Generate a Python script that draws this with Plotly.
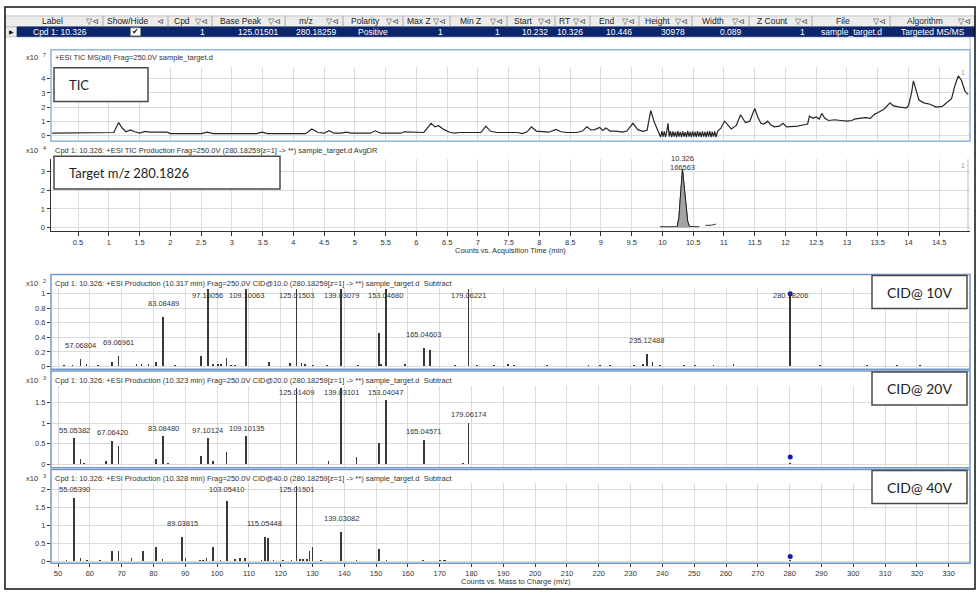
import plotly.graph_objects as go

# ---------------- data ----------------
table_headers = ["Label", "Show/Hide", "Cpd", "Base Peak", "m/z", "Polarity", "Max Z", "Min Z",
                 "Start", "RT", "End", "Height", "Width", "Z Count", "File", "Algorithm"]
table_row = ["Cpd 1: 10.326", "✔", "1", "125.01501", "280.18259", "Positive", "1", "1",
             "10.232", "10.326", "10.446", "30978", "0.089", "1", "sample_target.d", "Targeted MS/MS"]

# TIC, counts x10^7
tic_time = [
    0.08, 1.00, 1.08, 1.16, 1.22, 1.28, 1.35, 1.42, 1.50, 1.59,
    1.66, 1.75, 1.95, 2.00, 2.50, 2.60, 2.70, 3.40, 3.49, 3.58,
    4.20, 4.30, 4.40, 4.50, 4.58, 4.66, 4.78, 4.86, 4.94, 5.25,
    5.33, 5.42, 5.75, 5.80, 6.05, 6.12, 6.24, 6.30, 6.36, 6.45,
    6.55, 6.62, 6.70, 6.80, 7.00, 7.05, 7.13, 7.20, 7.30, 7.65,
    7.72, 7.80, 7.87, 7.95, 8.00, 8.15, 8.27, 8.35, 8.45, 8.60,
    8.70, 8.77, 8.84, 8.90, 8.98, 9.03, 9.08, 9.15, 9.25, 9.35,
    9.42, 9.52, 9.60, 9.68, 9.75, 9.81, 9.87, 9.93, 9.97, 9.99,
    10.01, 10.03, 10.05, 10.07, 10.09, 10.11, 10.13, 10.15, 10.17, 10.19,
    10.21, 10.23, 10.25, 10.27, 10.29, 10.31, 10.33, 10.35, 10.37, 10.39,
    10.41, 10.43, 10.45, 10.47, 10.49, 10.51, 10.53, 10.55, 10.57, 10.59,
    10.61, 10.63, 10.65, 10.67, 10.69, 10.71, 10.73, 10.75, 10.77, 10.79,
    10.81, 10.83, 10.85, 10.87, 10.90, 10.95, 11.01, 11.07, 11.12, 11.20,
    11.27, 11.32, 11.35, 11.42, 11.50, 11.55, 11.60, 11.65, 11.71, 11.76,
    11.82, 11.90, 11.96, 12.02, 12.10, 12.20, 12.30, 12.36, 12.39, 12.45,
    12.50, 12.55, 12.59, 12.64, 12.70, 12.80, 12.90, 13.00, 13.08, 13.12,
    13.20, 13.30, 13.38, 13.45, 13.50, 13.60, 13.70, 13.75, 13.85, 13.97,
    14.00, 14.05, 14.08, 14.12, 14.17, 14.25, 14.35, 14.45, 14.55, 14.62,
    14.70, 14.76, 14.81, 14.86, 14.92, 14.97]
tic_counts = [
    0.15, 0.15, 0.20, 0.90, 0.50, 0.25, 0.38, 0.25, 0.15, 0.28,
    0.22, 0.22, 0.22, 0.12, 0.12, 0.22, 0.12, 0.12, 0.22, 0.12,
    0.12, 0.45, 0.20, 0.15, 0.32, 0.15, 0.15, 0.22, 0.15, 0.15,
    0.32, 0.15, 0.15, 0.25, 0.25, 0.20, 0.85, 0.60, 0.68, 0.40,
    0.20, 0.15, 0.20, 0.20, 0.15, 0.20, 0.65, 0.30, 0.20, 0.20,
    0.12, 0.25, 0.60, 0.30, 0.28, 0.22, 0.42, 0.25, 0.20, 0.20,
    0.30, 0.60, 0.38, 0.40, 0.55, 0.35, 0.52, 0.30, 0.30, 0.22,
    0.30, 0.85, 0.40, 0.28, 0.35, 1.75, 0.90, 0.35, -0.12, 0.30,
    -0.10, 0.28, -0.12, 0.25, 0.85, -0.10, 0.30, -0.12, 0.28, -0.10,
    0.25, -0.12, 0.30, -0.10, 0.25, -0.12, 0.28, -0.10, 0.22, -0.12,
    0.32, -0.10, 0.25, -0.12, 0.28, -0.10, 0.25, -0.12, 0.30, -0.10,
    0.25, -0.12, 0.28, -0.10, 0.25, -0.12, 0.28, -0.10, 0.30, -0.12,
    0.25, -0.10, 0.28, -0.12, 0.30, 0.50, 1.00, 0.70, 0.45, 0.70,
    1.45, 1.10, 0.90, 1.00, 1.90, 1.30, 0.85, 0.80, 1.00, 0.75,
    0.60, 0.65, 0.85, 0.60, 0.60, 0.65, 0.75, 0.80, 1.35, 1.20,
    1.30, 1.15, 1.55, 1.20, 1.05, 1.10, 1.05, 1.00, 1.05, 1.15,
    1.20, 1.25, 1.20, 1.50, 1.60, 1.85, 2.30, 2.10, 2.00, 1.95,
    2.10, 3.00, 3.85, 3.20, 2.50, 2.30, 2.20, 2.00, 2.05, 2.30,
    2.60, 3.60, 4.20, 3.90, 3.10, 2.90]

# Target m/z 280.1826 chromatogram, counts x10^4
eic_time = [9.96, 10.05, 10.15, 10.24, 10.27, 10.29, 10.31, 10.326, 10.35, 10.38,
            10.41, 10.44, 10.50, 10.60, None, 10.70, 10.80, 10.87]
eic_counts = [0.06, 0.07, 0.06, 0.06, 0.60, 1.60, 2.60, 3.10, 2.30, 1.10,
              0.35, 0.07, 0.06, 0.06, None, 0.13, 0.14, 0.20]
eic_rt = 10.326
eic_area = 166563
eic_start = 10.232
eic_end = 10.446

time_ticks = [0.5, 1, 1.5, 2, 2.5, 3, 3.5, 4, 4.5, 5, 5.5, 6, 6.5, 7, 7.5,
              8, 8.5, 9, 9.5, 10, 10.5, 11, 11.5, 12, 12.5, 13, 13.5, 14, 14.5]
mz_ticks = [50, 60, 70, 80, 90, 100, 110, 120, 130, 140, 150, 160, 170, 180, 190,
            200, 210, 220, 230, 240, 250, 260, 270, 280, 290, 300, 310, 320, 330]

precursor_mz = 280.18259

# CID 10 V, counts x10^2
cid10_lab_mz = [57.06804, 69.06961, 83.08489, 97.10056, 109.10063, 125.01503,
                139.03079, 153.04680, 165.04603, 179.06221, 235.12488, 280.18206]
cid10_lab_int = [0.10, 0.14, 0.68, 1.06, 1.06, 1.06, 1.06, 1.06, 0.25, 1.06, 0.17, 1.00]
cid10_mz = [51.9, 54.6, 59.0, 62.6, 67.0, 74.7, 76.3, 78.4, 80.8, 86.7,
            94.9, 98.8, 100.3, 101.2, 103.0, 104.4, 105.6, 116.4, 122.9, 126.6,
            127.6, 130.1, 134.5, 144.3, 150.9, 151.6, 159.0, 166.9, 174.8, 181.7,
            187.0, 191.4, 193.3, 203.7, 216.8, 220.4, 223.5, 231.0, 233.9, 236.9,
            239.2, 246.7, 250.2, 256.1, 262.4, 289.6, 304.3, 313.7, 321.0]
cid10_int = [0.02, 0.02, 0.04, 0.02, 0.06, 0.03, 0.03, 0.04, 0.06, 0.02,
             0.15, 0.03, 0.04, 0.04, 0.11, 0.02, 0.02, 0.06, 0.05, 0.05,
             0.04, 0.02, 0.02, 0.02, 0.46, 0.03, 0.04, 0.22, 0.02, 0.02,
             0.02, 0.03, 0.02, 0.02, 0.02, 0.02, 0.02, 0.02, 0.03, 0.06,
             0.02, 0.02, 0.02, 0.02, 0.03, 0.02, 0.02, 0.02, 0.02]

# CID 20 V, counts x10^3
cid20_lab_mz = [55.05382, 67.06420, 83.08480, 97.10124, 109.10135, 125.01409,
                139.03101, 153.04047, 165.04571, 179.06174]
cid20_lab_int = [0.63, 0.57, 0.69, 0.63, 0.69, 1.85, 1.85, 1.56, 0.60, 1.01]
cid20_mz = [50.1, 57.07, 58.1, 65.1, 69.07, 77.0, 80.8, 84.6, 89.2, 94.9,
            98.8, 103.0, 104.7, 116.1, 123.1, 123.9, 129.2, 135.0, 143.9, 150.9,
            177.3, 187.3, 193.0, 207.8, 231.4, 247.7, 262.5, 280.18, 290.2]
cid20_int = [0.02, 0.12, 0.03, 0.08, 0.45, 0.02, 0.12, 0.03, 0.02, 0.21,
             0.08, 0.29, 0.02, 0.02, 0.02, 0.02, 0.02, 0.08, 0.17, 0.51,
             0.03, 0.02, 0.02, 0.02, 0.02, 0.02, 0.02, 0.04, 0.02]

# CID 40 V, counts x10^3
cid40_lab_mz = [55.05390, 89.03815, 103.05410, 115.05448, 125.01501, 139.03082]
cid40_lab_int = [1.77, 0.69, 1.69, 0.69, 2.11, 0.83]
cid40_mz = [52.7, 57.07, 59.2, 63.2, 67.05, 69.07, 73.1, 76.8, 80.8, 82.9,
            90.1, 94.6, 95.6, 96.7, 98.8, 101.1, 105.6, 107.2, 108.8, 114.0,
            116.0, 117.7, 120.8, 123.4, 126.0, 127.1, 128.2, 129.0, 130.0, 132.6,
            143.9, 150.9, 153.3, 164.8, 170.0, 171.2, 171.6, 280.18]
cid40_int = [0.03, 0.09, 0.04, 0.03, 0.28, 0.28, 0.10, 0.28, 0.39, 0.06,
             0.08, 0.04, 0.04, 0.08, 0.39, 0.03, 0.07, 0.08, 0.10, 0.04,
             0.66, 0.03, 0.03, 0.03, 0.06, 0.06, 0.07, 0.28, 0.39, 0.02,
             0.03, 0.35, 0.02, 0.02, 0.02, 0.02, 0.02, 0.02]

precursor_marker = [1.00, 0.18, 0.13]

chrom_titles = ["+ESI TIC MS(all) Frag=250.0V sample_target.d",
                "Cpd 1: 10.326: +ESI TIC Production Frag=250.0V (280.18259[z=1] -> **) sample_target.d AvgDR"]
chrom_exps = ["7", "4"]
spec_titles = [
    "Cpd 1: 10.326: +ESI Production (10.317 min) Frag=250.0V CID@10.0 (280.18259[z=1] -> **) sample_target.d  Subtract",
    "Cpd 1: 10.326: +ESI Production (10.323 min) Frag=250.0V CID@20.0 (280.18259[z=1] -> **) sample_target.d  Subtract",
    "Cpd 1: 10.326: +ESI Production (10.328 min) Frag=250.0V CID@40.0 (280.18259[z=1] -> **) sample_target.d  Subtract"]
spec_boxes = ["CID@ 10V", "CID@ 20V", "CID@ 40V"]
spec_exps = ["2", "3", "3"]

# ---------------- layout helpers ----------------
W, H = 977, 595
def xp(v): return v / W
def yp(v): return 1 - v / H

FONT = "Liberation Sans"
BOXFONT = "Lato"
INK = "#333333"
GRID = "#dcdcdc"
FRAME = "#7398c6"
PL, PR = 51, 970
SMALL = dict(family=FONT, size=7.5, color=INK)

fig = go.Figure()
shapes = []
ann = []

def text(x, y, s, size=7.5, color=INK, xa="left", ya="middle", family=FONT, xref="paper", yref="paper", **kw):
    if xref == "paper":
        x = xp(x)
    if yref == "paper":
        y = yp(y)
    ann.append(dict(x=x, y=y, xref=xref, yref=yref, text=s, showarrow=False, xanchor=xa, yanchor=ya,
                    font=dict(family=family, size=size, color=color), **kw))

def exponent(y, e):
    # "x10" with a raised exponent, drawn as two plain texts
    text(40, y, "x10", xa="right")
    text(40.5, y - 2.5, e, size=5.5, xa="left")

def rect(x0, y0, x1, y1, line="#000", width=1, fill=None, layer="above"):
    shapes.append(dict(type="rect", xref="paper", yref="paper", x0=xp(x0), x1=xp(x1), y0=yp(y1), y1=yp(y0),
                       line=dict(color=line, width=width), fillcolor=fill, layer=layer))

def vline(x, y0, y1, color, width=1):
    shapes.append(dict(type="line", xref="paper", yref="paper", x0=xp(x), x1=xp(x), y0=yp(y0), y1=yp(y1),
                       line=dict(color=color, width=width)))

# ---------------- table ----------------
col_edges = [17, 103, 168, 212, 285, 343, 403, 450, 507, 555, 590, 639, 692, 749, 812, 890, 975]
col_align = ["center", "center", "right", "right", "right", "center", "right", "right",
             "right", "right", "right", "right", "right", "right", "center", "center"]
rect(5, 16, 975, 27, line="#b5b5b5", width=0.8, fill="#ececec", layer="below")
rect(5, 27, 17, 37, line="#b5b5b5", width=0.8, fill="#ececec", layer="below")
rect(17, 27, 975, 37, line="#0a2468", width=0.5, fill="#0b266c", layer="below")
text(11, 32, "▶", size=6, color="#111", xa="center")
for i, name in enumerate(table_headers):
    l, r = col_edges[i], col_edges[i + 1]
    vline(r, 16, 27, "#9a9a9a", 0.8)
    icon = "⊲" if name == "Show/Hide" else "▽⊲"
    text((l + r - 16) / 2, 21.5, name, size=8.5, color="#222", xa="center")
    text(r - 2, 21.5, icon, size=7.5, color="#444", xa="right")
    val = table_row[i]
    if name == "Show/Hide":
        rect((l + r) / 2 - 5, 28, (l + r) / 2 + 5, 36, line="#888", width=0.8, fill="#ffffff")
        text((l + r) / 2, 32, val, size=8, color="#111", xa="center")
    elif col_align[i] == "center":
        text((l + r) / 2, 32.5, val, size=8.5, color="#ffffff", xa="center")
    else:
        text(r - 5, 32.5, val, size=8.5, color="#ffffff", xa="right")
vline(970, 37, 50, "#b0b0b0", 0.8)

# ---------------- chromatograms ----------------
fig.add_trace(go.Scatter(x=tic_time, y=tic_counts, mode="lines", line=dict(color="#262626", width=1.2),
                         xaxis="x", yaxis="y", hoverinfo="skip"))
fig.add_trace(go.Scatter(x=eic_time, y=eic_counts, mode="lines", line=dict(color="#333333", width=1),
                         connectgaps=False, xaxis="x2", yaxis="y2", hoverinfo="skip"))
pk = [(t, c) for t, c in zip(eic_time, eic_counts) if t is not None and eic_start <= t <= eic_end]
fig.add_trace(go.Scatter(x=[p[0] for p in pk], y=[p[1] for p in pk], mode="lines", fill="tozeroy",
                         fillcolor="#a3a3a3", line=dict(color="#222222", width=1),
                         xaxis="x2", yaxis="y2", hoverinfo="skip"))

# TIC frame / annotations
rect(PL, 50, PR, 142, line="#93b4da", width=1.5)
exponent(57.5, chrom_exps[0])
text(53, 57.5, chrom_titles[0])
text(967, 73, "1", size=7, color="#9a9a9a", xa="right")
rect(54, 68, 148, 102, line="#4a4a4a", width=1.5, fill="#ffffff")
text(67, 85, "TIC", size=13, color="#222", family=BOXFONT)

# Target panel
exponent(151.5, chrom_exps[1])
text(53, 151.5, chrom_titles[1])
vline(968, 160, 232, "#b8b8b8", 1)
text(967, 166, "1", size=7, color="#9a9a9a", xa="right")
rect(54, 157, 280, 190, line="#4a4a4a", width=1.5, fill="#ffffff")
text(67, 173.5, "Target m/z 280.1826", size=13, color="#222", family=BOXFONT)
apex = max(c for c in eic_counts if c is not None)
text(eic_rt, apex, f"{eic_rt:.3f}", xa="center", ya="bottom", xref="x2", yref="y2", yshift=4)
text(eic_rt, apex, f"{eic_area}", xa="center", ya="bottom", xref="x2", yref="y2", yshift=-5)
text(510, 252, "Counts vs. Acquisition Time (min)", xa="center")

# ---------------- spectra ----------------
spectra = [
    (cid10_lab_mz, cid10_lab_int, cid10_mz, cid10_int),
    (cid20_lab_mz, cid20_lab_int, cid20_mz, cid20_int),
    (cid40_lab_mz, cid40_lab_int, cid40_mz, cid40_int),
]
# frame top, frame bottom, plot top, zero pixel, px per unit, label offset px, label cap
panel_geo = [
    (276, 371, 289, 368.3, 73.0, 14, 0.98),
    (373, 470, 388, 466.7, 41.3, 8, 1.74),
    (472, 566, 485, 564.0, 35.85, 13, 2.0),
]
spec_yticks = [[0, 0.2, 0.4, 0.6, 0.8, 1], [0, 0.5, 1, 1.5], [0, 0.5, 1, 1.5, 2]]

for k, (lmz, lint, mmz, mint) in enumerate(spectra):
    ax = str(k + 3)
    ftop, fbot, ptop, zero, ppu, off, cap = panel_geo[k]
    fig.add_trace(go.Bar(x=list(lmz) + list(mmz), y=list(lint) + list(mint), width=0.5,
                         marker=dict(color="#383838", line=dict(width=0)),
                         xaxis="x" + ax, yaxis="y" + ax, hoverinfo="skip"))
    fig.add_trace(go.Scatter(x=[precursor_mz], y=[precursor_marker[k]], mode="markers",
                             marker=dict(color="#1a1aa8", size=5), cliponaxis=False,
                             xaxis="x" + ax, yaxis="y" + ax, hoverinfo="skip"))
    for m, h in zip(lmz, lint):
        text(m, min(h + off / ppu, cap), f"{m:.5f}", xa="center", xref="x" + ax, yref="y" + ax)
    rect(PL, ftop, PR, fbot, line=FRAME, width=1.5)
    exponent(ftop + 9, spec_exps[k])
    text(53, ftop + 9, spec_titles[k])
    rect(872, ftop + 1, 967, ftop + 34, line="#4a4a4a", width=1.5, fill="#ffffff")
    text(919, ftop + 17.5, spec_boxes[k], size=14, color="#222", family=BOXFONT, xa="center")

text(516, 584, "Counts vs. Mass to Charge (m/z)", xa="center")

# outer border
rect(5, 7, 975, 592, line="#111111", width=1.5)

# ---------------- axes ----------------
def yax(top, bot, zero, ppu, ticks, anchor, showline=False):
    return dict(domain=[yp(bot), yp(top)], range=[(zero - bot) / ppu, (zero - top) / ppu],
                tickvals=ticks, ticktext=[f"{t:g}" for t in ticks], ticks="outside", ticklen=3,
                tickcolor=INK, tickfont=SMALL, showgrid=True, gridcolor=GRID, gridwidth=1,
                zeroline=False, showline=showline, linecolor=INK, linewidth=1.5, anchor=anchor, fixedrange=True)

layout = dict(
    width=W, height=H, margin=dict(l=0, r=0, t=0, b=0, pad=0),
    paper_bgcolor="#ffffff", plot_bgcolor="#ffffff", showlegend=False, bargap=0,
    font=dict(family=FONT, size=8, color=INK),
    xaxis=dict(domain=[xp(PL), xp(PR)], range=[0.06, 15.0], tickvals=time_ticks, showticklabels=False,
               ticks="", showgrid=True, gridcolor=GRID, zeroline=False, anchor="y"),
    yaxis=yax(67, 142, 136.0, 14.2, [0, 1, 2, 3, 4], "x"),
    xaxis2=dict(domain=[xp(PL), xp(PR)], range=[0.06, 15.0], tickvals=time_ticks,
                ticktext=[f"{t:g}" for t in time_ticks], ticks="outside", ticklen=4, tickcolor=INK,
                tickfont=SMALL, showgrid=True, gridcolor=GRID, zeroline=False, showline=True,
                linecolor=INK, linewidth=1.5, anchor="y2"),
    yaxis2=yax(160, 232, 229.0, 19.0, [0, 1, 2, 3], "x2", showline=True),
    shapes=shapes, annotations=ann,
)
for k in range(3):
    ax = str(k + 3)
    ftop, fbot, ptop, zero, ppu, off, cap = panel_geo[k]
    last = (k == 2)
    layout["xaxis" + ax] = dict(domain=[xp(PL), xp(PR)], range=[47.8, 336.7], tickvals=mz_ticks,
                                ticktext=[str(t) for t in mz_ticks], showticklabels=last,
                                ticks="outside" if last else "", ticklen=3, tickcolor=INK, tickfont=SMALL,
                                showgrid=True, gridcolor=GRID, zeroline=False, anchor="y" + ax)
    layout["yaxis" + ax] = yax(ptop, fbot, zero, ppu, spec_yticks[k], "x" + ax)

fig.update_layout(**layout)
fig.write_html("out.html", config={"displayModeBar": False, "staticPlot": True},
               post_script="document.body.style.margin='0';document.body.style.overflow='hidden';")
